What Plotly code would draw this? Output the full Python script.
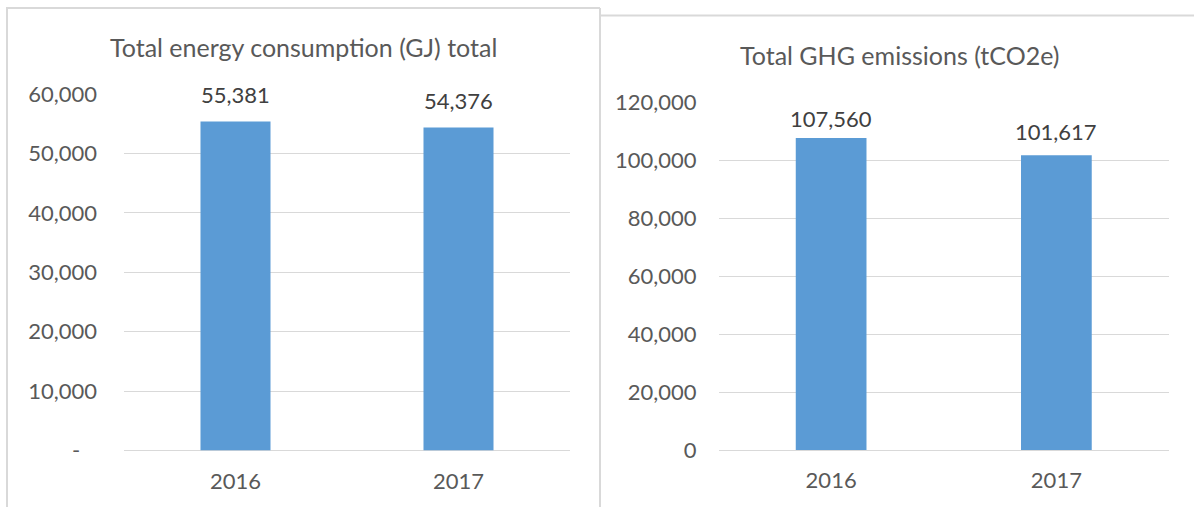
import plotly.graph_objects as go

# ---- data ----
years = ["2016", "2017"]
energy_gj = [55381, 54376]
ghg_tco2e = [107560, 101617]

energy_title = "Total energy consumption (GJ) total"
ghg_title = "Total GHG emissions (tCO2e)"

energy_tickvals = [0, 10000, 20000, 30000, 40000, 50000, 60000]
energy_ticktext = ["-\u00a0\u00a0\u00a0", "10,000", "20,000", "30,000", "40,000", "50,000", "60,000"]
ghg_tickvals = [0, 20000, 40000, 60000, 80000, 100000, 120000]
ghg_ticktext = ["0", "20,000", "40,000", "60,000", "80,000", "100,000", "120,000"]

W, H = 1194, 507
FONT = "Lato"
BAR = "#5B9BD5"
GRID = "#D9D9D9"
TICK = "#595959"
LABEL = "#404040"

# label offsets above bar tops (pixels)
energy_label_shift = [27, 27]
ghg_label_shift = [20, 24]

def px_x(p):
    return p / W

def px_y(p):
    return (H - p) / H

fig = go.Figure()
fig.add_trace(go.Bar(x=years, y=energy_gj, marker_color=BAR, xaxis="x", yaxis="y",
                     hoverinfo="x+y"))
fig.add_trace(go.Bar(x=years, y=ghg_tco2e, marker_color=BAR, xaxis="x2", yaxis="y2",
                     hoverinfo="x+y"))

tickfont = dict(family=FONT, size=22, color=TICK)

annotations = []
# category positions are referenced by index (numeric-looking category names
# would otherwise be read as indices)
for i, v in enumerate(energy_gj):
    annotations.append(dict(x=i, y=v, xref="x", yref="y", text=f"{v:,}", showarrow=False,
                            yanchor="middle", yshift=energy_label_shift[i],
                            font=dict(family=FONT, size=22, color=LABEL)))
for i, v in enumerate(ghg_tco2e):
    annotations.append(dict(x=i, y=v, xref="x2", yref="y2", text=f"{v:,}", showarrow=False,
                            yanchor="middle", yshift=ghg_label_shift[i],
                            font=dict(family=FONT, size=22, color=LABEL)))
annotations.append(dict(x=px_x(303), y=px_y(47), xref="paper", yref="paper", text=energy_title,
                        showarrow=False, xanchor="center", yanchor="middle",
                        font=dict(family=FONT, size=25, color=TICK)))
annotations.append(dict(x=px_x(899), y=px_y(55), xref="paper", yref="paper", text=ghg_title,
                        showarrow=False, xanchor="center", yanchor="middle",
                        font=dict(family=FONT, size=25, color=TICK)))

border = dict(color=GRID, width=2)
shapes = [
    dict(type="line", xref="paper", yref="paper", x0=px_x(7), x1=px_x(7), y0=px_y(8), y1=0, line=border),
    dict(type="line", xref="paper", yref="paper", x0=px_x(6), x1=px_x(600), y0=px_y(8), y1=px_y(8), line=border),
    dict(type="line", xref="paper", yref="paper", x0=px_x(600), x1=px_x(600), y0=px_y(8), y1=0, line=border),
    dict(type="line", xref="paper", yref="paper", x0=px_x(600), x1=1, y0=px_y(15.5), y1=px_y(15.5), line=border),
]

xcommon = dict(type="category", range=[-0.5, len(years) - 0.5], autorange=False,
               showgrid=False, zeroline=False, showline=False, ticks="",
               tickfont=tickfont, ticklabelstandoff=15, automargin=False, fixedrange=True)
ycommon = dict(showgrid=True, gridcolor=GRID, gridwidth=1, zeroline=True, zerolinecolor=GRID,
               zerolinewidth=1, showline=False, ticks="", tickfont=tickfont, automargin=False,
               fixedrange=True)

fig.update_layout(
    template="none",
    width=W, height=H, autosize=False,
    margin=dict(l=0, r=0, t=0, b=0, pad=0),
    paper_bgcolor="white", plot_bgcolor="white",
    showlegend=False, bargap=0.686,
    font=dict(family=FONT, color=TICK),
    xaxis=dict(xcommon, domain=[px_x(124), px_x(570)], anchor="y"),
    yaxis=dict(ycommon, domain=[px_y(450.5), px_y(94)], anchor="x", range=[0, 60000],
               tickvals=energy_tickvals, ticktext=energy_ticktext, ticklabelstandoff=26),
    xaxis2=dict(xcommon, domain=[px_x(718.5), px_x(1169)], anchor="y2"),
    yaxis2=dict(ycommon, domain=[px_y(450), px_y(102)], anchor="x2", range=[0, 120000],
                tickvals=ghg_tickvals, ticktext=ghg_ticktext, ticklabelstandoff=21),
    annotations=annotations,
    shapes=shapes,
)

fig.write_html("out.html", config={"displayModeBar": False},
               post_script="document.body.style.margin='0';document.body.style.overflow='hidden';")
